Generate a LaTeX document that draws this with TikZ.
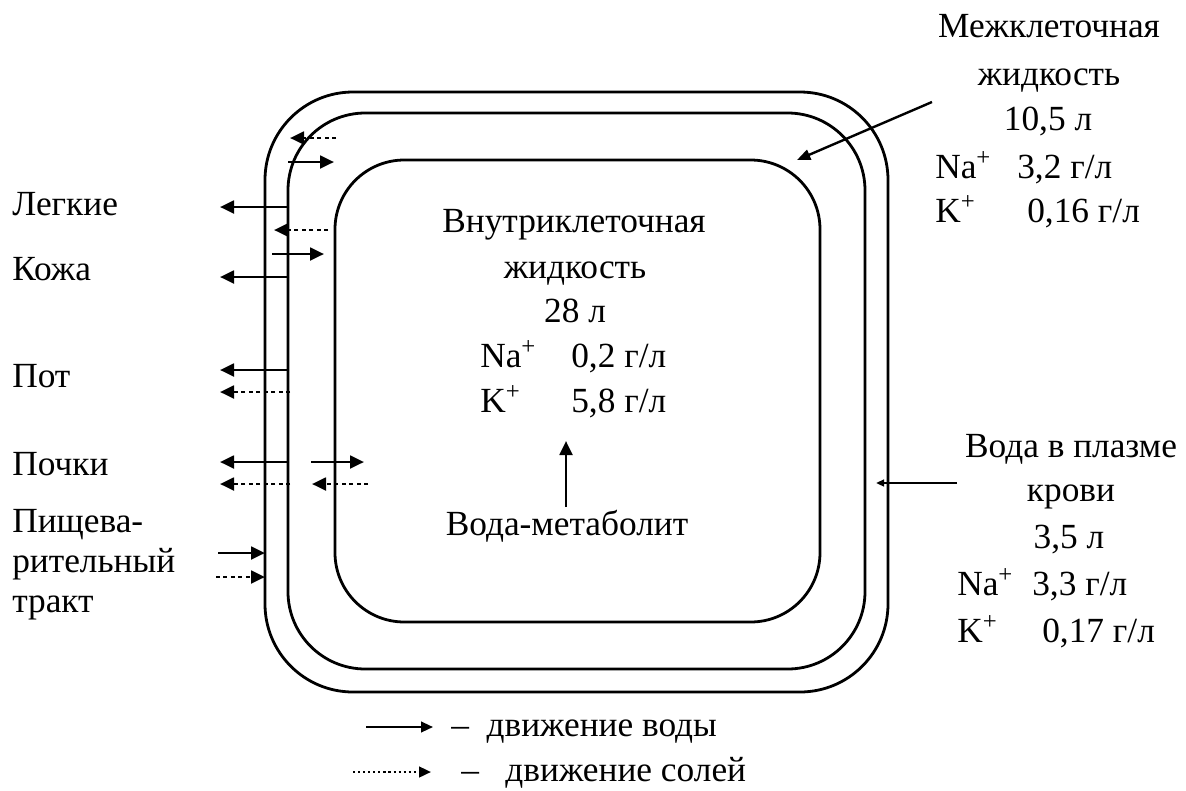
\documentclass[tikz,border=0pt]{standalone}
\usepackage{fontspec}
\setmainfont{Liberation Serif}
\usetikzlibrary{arrows.meta}
\tikzset{
  memb/.style={line width=2.1pt},
  wat/.style={line width=2.1pt,-{Triangle[length=10.5pt,width=9.5pt]}},
  salt/.style={line width=2.1pt,dash pattern=on 2.8pt off 2.8pt,-{Triangle[length=10.5pt,width=9.5pt]}},
  lab/.style={inner sep=0pt,font=\fontsize{26.5}{30}\selectfont},
  ptr/.style={line width=1.8pt,-{Triangle[length=10pt,width=8pt]}}
}
\begin{document}
\begin{tikzpicture}[x=0.75pt,y=-0.75pt]
\useasboundingbox (0,0) rectangle (1186,790);
% membranes
\draw[memb,rounded corners=66pt] (265,92) rectangle (888,692);
\draw[memb,rounded corners=58pt] (288,113) rectangle (865,669);
\draw[memb,rounded corners=52pt] (335,160) rectangle (820,622);

% top-left exchange
\coordinate (a1s) at (336,138); \coordinate (a1e) at (290,138);
\draw[salt] (a1s) -- (a1e);
\coordinate (a2s) at (288,162); \coordinate (a2e) at (334,162);
\draw[wat] (a2s) -- (a2e);

% Lungs
\node[lab,anchor=base west] (lungs) at (12,215) {Легкие};
\coordinate (b1s) at (289,207); \coordinate (b1e) at (220,207);
\draw[wat] (b1s) -- (b1e);
\coordinate (b2s) at (328,230); \coordinate (b2e) at (274,230);
\draw[salt] (b2s) -- (b2e);
\coordinate (b3s) at (272,254); \coordinate (b3e) at (324,254);
\draw[wat] (b3s) -- (b3e);

% Skin
\node[lab,anchor=base west] (skin) at (12,280) {Кожа};
\coordinate (c1s) at (289,277); \coordinate (c1e) at (220,277);
\draw[wat] (c1s) -- (c1e);

% Sweat
\node[lab,anchor=base west] (sweat) at (12,387) {Пот};
\coordinate (d1s) at (289,370); \coordinate (d1e) at (220,370);
\draw[wat] (d1s) -- (d1e);
\coordinate (d2s) at (290,392); \coordinate (d2e) at (220,392);
\draw[salt] (d2s) -- (d2e);

% Kidneys
\node[lab,anchor=base west] (kid) at (12,475) {Почки};
\coordinate (e1s) at (289,462); \coordinate (e1e) at (220,462);
\draw[wat] (e1s) -- (e1e);
\coordinate (e2s) at (290,484); \coordinate (e2e) at (220,484);
\draw[salt] (e2s) -- (e2e);
\coordinate (e3s) at (311,462); \coordinate (e3e) at (364,462);
\draw[wat] (e3s) -- (e3e);
\coordinate (e4s) at (368,484); \coordinate (e4e) at (312,484);
\draw[salt] (e4s) -- (e4e);

% Digestive tract
\node[lab,anchor=base west] (dig1) at (12,532) {Пищева-};
\node[lab,anchor=base west] (dig2) at (12,572) {рительный};
\node[lab,anchor=base west] (dig3) at (12,612) {тракт};
\coordinate (f1s) at (218,553); \coordinate (f1e) at (265,553);
\draw[wat] (f1s) -- (f1e);
\coordinate (f2s) at (216,577); \coordinate (f2e) at (265,577);
\draw[salt] (f2s) -- (f2e);

% Intracellular fluid
\node[lab,anchor=base] (ic1) at (574,232) {Внутриклеточная};
\node[lab,anchor=base] (ic2) at (575,278) {жидкость};
\node[lab,anchor=base] (ic3) at (575,322) {28 л};
\node[lab,anchor=base west] (ic4a) at (480,367) {Na\textsuperscript{+}};
\node[lab,anchor=base west] (ic4b) at (571,367) {0,2 г/л};
\node[lab,anchor=base west] (ic5a) at (480,412) {K\textsuperscript{+}};
\node[lab,anchor=base west] (ic5b) at (571,412) {5,8 г/л};

% Metabolic water
\node[lab,anchor=base] (met) at (567,535) {Вода-метаболит};
\coordinate (mt1) at (566,507); \coordinate (mt2) at (566,441);
\draw[wat] (mt1) -- (mt2);

% Interstitial fluid
\node[lab,anchor=base] (is1) at (1049,37) {Межклеточная};
\node[lab,anchor=base] (is2) at (1049,85) {жидкость};
\node[lab,anchor=base] (is3) at (1048,130) {10,5 л};
\node[lab,anchor=base west] (is4a) at (935,178) {Na\textsuperscript{+}};
\node[lab,anchor=base west] (is4b) at (1017,178) {3,2 г/л};
\node[lab,anchor=base west] (is5a) at (935,222) {K\textsuperscript{+}};
\node[lab,anchor=base west] (is5b) at (1027,222) {0,16 г/л};
\coordinate (isp1) at (932,102); \coordinate (isp2) at (797,160);
\draw[ptr] (isp1) -- (isp2);

% Plasma water
\node[lab,anchor=base] (pl1) at (1071,457) {Вода в плазме};
\node[lab,anchor=base] (pl2) at (1071,501) {крови};
\node[lab,anchor=base] (pl3) at (1069,548) {3,5 л};
\node[lab,anchor=base west] (pl4a) at (957,595) {Na\textsuperscript{+}};
\node[lab,anchor=base west] (pl4b) at (1032,595) {3,3 г/л};
\node[lab,anchor=base west] (pl5a) at (957,642) {K\textsuperscript{+}};
\node[lab,anchor=base west] (pl5b) at (1042,642) {0,17 г/л};
\coordinate (plp1) at (957,483); \coordinate (plp2) at (876,483);
\draw[ptr,-{Triangle[length=6pt,width=5pt]}] (plp1) -- (plp2);

% Legend
\coordinate (lg1s) at (366,727); \coordinate (lg1e) at (433,727);
\draw[line width=1.6pt,-{Triangle[length=9pt,width=8pt]}] (lg1s) -- (lg1e);
\node[lab,anchor=base west] (lg1t) at (451,736) {–\ \ движение воды};
\coordinate (lg2s) at (353,772); \coordinate (lg2e) at (431,772);
\draw[line width=1.8pt,dash pattern=on 1.6pt off 2.2pt,-{Triangle[length=9pt,width=8pt]}] (lg2s) -- (lg2e);
\node[lab,anchor=base west] (lg2t) at (461,781) {–\ \ \ движение солей};
\end{tikzpicture}
\end{document}
